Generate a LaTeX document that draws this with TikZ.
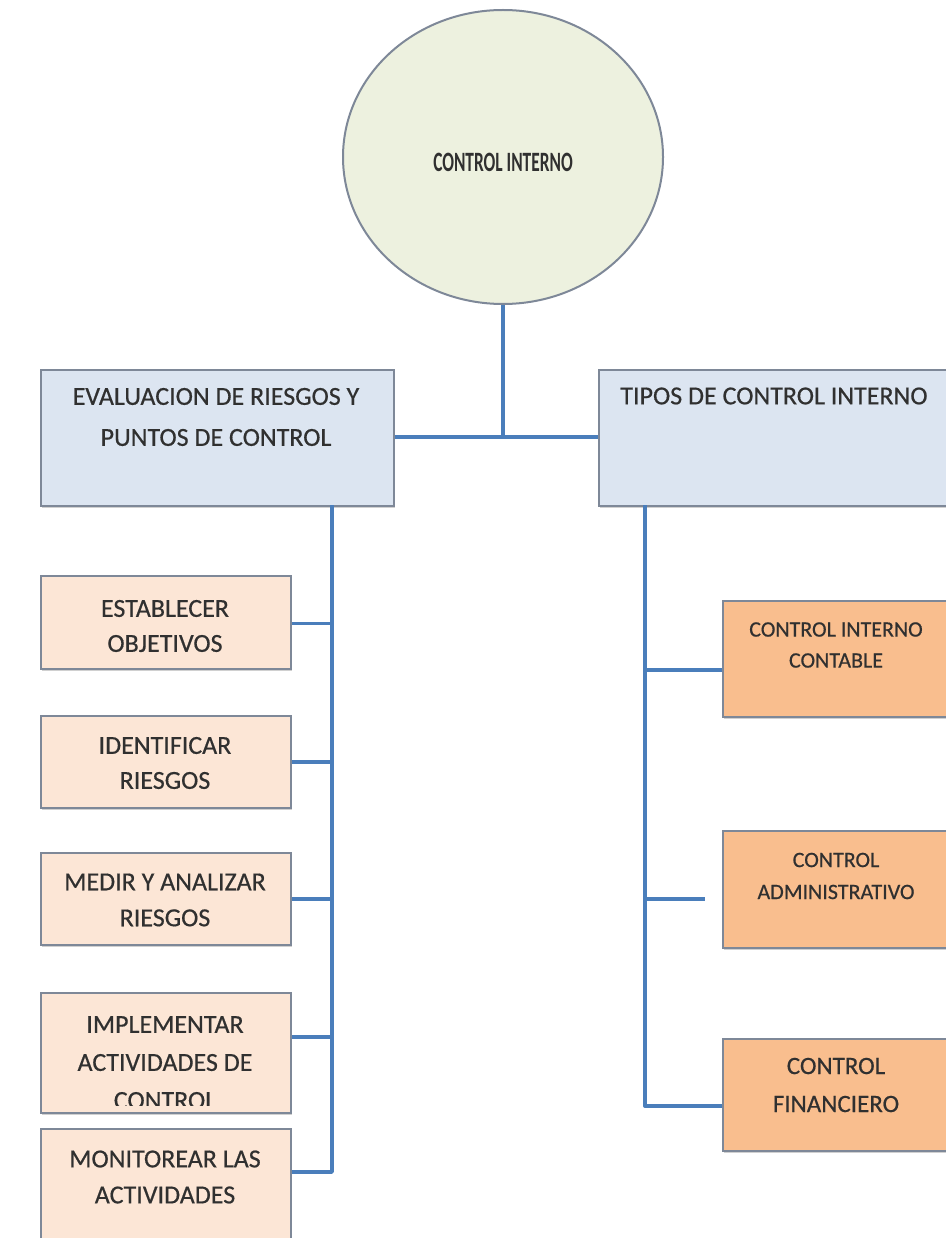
\documentclass[tikz,border=0pt]{standalone}
\usepackage{fontspec}
\setmainfont{Carlito}
\newfontfamily\lblfont[FakeBold=0.5]{Carlito}
\usetikzlibrary{calc,shapes.geometric,shadows}
\definecolor{boxline}{HTML}{7E8898}
\definecolor{linkblue}{HTML}{4A7EBB}
\definecolor{headfill}{HTML}{DCE5F1}
\definecolor{peach}{HTML}{FCE6D6}
\definecolor{orangefill}{HTML}{F9BE8E}
\definecolor{circfill}{HTML}{EDF1DF}
\definecolor{txt}{HTML}{303030}
\tikzset{
  panel/.style={draw=boxline, line width=2.2pt, anchor=north west, inner sep=0pt,
    drop shadow={shadow xshift=1pt, shadow yshift=-2pt, opacity=0.3, fill=black!60}},
  headbox/.style={panel, fill=headfill, minimum width=353, minimum height=136},
  stepbox/.style={panel, fill=peach, minimum width=250},
  typebox/.style={panel, fill=orangefill, minimum width=230},
  lbl/.style={text=txt, align=center, inner sep=0pt},
  conn/.style={draw=linkblue, line width=3.4pt, line cap=butt, line join=round},
}
\newcommand\lblsize[2]{\lblfont\fontsize{#1}{#2}\selectfont}
\begin{document}
\begin{tikzpicture}[x=1pt,y=-1pt]
\useasboundingbox[fill=white] (0,0) rectangle (945,1238);

% central topic
\node[ellipse, draw=boxline, line width=2pt, fill=circfill,
      minimum width=320, minimum height=294, inner sep=0pt] (root) at (503,157) {};
\node[lbl, font=\bfseries\fontsize{28}{32}\selectfont] (roott) at (503,162)
  {\scalebox{0.62}[1]{CONTROL INTERNO}};

% the two main branches
\node[headbox] (eval) at (40,369) {};
\node[lbl, font=\lblsize{26}{41}] (evalt) at (216,417)
  {EVALUACION DE RIESGOS Y\\PUNTOS DE CONTROL};
\node[headbox] (tipos) at (598,369) {};
\node[lbl, font=\lblsize{26}{30}] (tipost) at (774,396)
  {TIPOS DE CONTROL INTERNO};

% steps of the risk evaluation
\node[stepbox, minimum height=93] (est) at (40,575) {};
\node[lbl, font=\lblsize{26}{35}] (estt) at (165,626) {ESTABLECER\\OBJETIVOS};
\node[stepbox, minimum height=92] (ide) at (40,715) {};
\node[lbl, font=\lblsize{26}{35}] (idet) at (165,763) {IDENTIFICAR\\RIESGOS};
\node[stepbox, minimum height=92] (med) at (40,852) {};
\node[lbl, font=\lblsize{26}{36}] (medt) at (165,900) {MEDIR Y ANALIZAR\\RIESGOS};
\node[stepbox, minimum height=120] (imp) at (40,992) {};
\begin{scope}
  % the third line overflows the box and is cut off
  \clip (imp.north west) rectangle ([yshift=9pt]imp.south east);
  \node[lbl, anchor=north, font=\lblsize{26}{38}] (impt) at (165,1016)
    {IMPLEMENTAR\\ACTIVIDADES DE\\CONTROL};
\end{scope}
\node[stepbox, minimum height=115] (mon) at (40,1128) {};
\node[lbl, font=\lblsize{26}{36}] (mont) at (165,1177) {MONITOREAR LAS\\ACTIVIDADES};

% types of internal control
\node[typebox, minimum height=116] (cont) at (722,600) {};
\node[lbl, font=\lblsize{22}{31}] (contt) at (836,645) {CONTROL INTERNO\\CONTABLE};
\node[typebox, minimum height=117] (adm) at (722,830) {};
\node[lbl, font=\lblsize{22}{32}] (admt) at (836,876) {CONTROL\\ADMINISTRATIVO};
\node[typebox, minimum height=112] (fin) at (722,1038) {};
\node[lbl, font=\lblsize{25}{38}] (fint) at (836,1085) {CONTROL\\FINANCIERO};

% connectors: root to the two branches
\coordinate (hub) at (eval.east |- 0,437);
\draw[conn] (root.south) -- ($(root.south |- hub)$);
\draw[conn] (hub) -- (hub -| tipos.west);

% left trunk
\coordinate (ltop) at (332,505);
\coordinate (lbot) at (332,1172);
\draw[conn] (ltop) -- (lbot) -- (lbot -| mon.east);
\draw[conn] ([yshift=-1pt]est.east) -- ([yshift=-1pt]est.east -| ltop);
\draw[conn] (ide.east) -- (ide.east -| ltop);
\draw[conn] (med.east) -- (med.east -| ltop);
\draw[conn] ([yshift=16pt]imp.east) -- ([yshift=16pt]imp.east -| ltop);

% right trunk
\coordinate (rtop) at (645,505);
\coordinate (rbot) at (645,1106);
\coordinate (admend) at (705,899);
\draw[conn] (rtop) -- (rbot) -- (rbot -| fin.west);
\draw[conn] ([yshift=-11pt]cont.west) -- ([yshift=-11pt]cont.west -| rtop);
\draw[conn] (admend -| rtop) -- (admend);
\end{tikzpicture}
\end{document}
